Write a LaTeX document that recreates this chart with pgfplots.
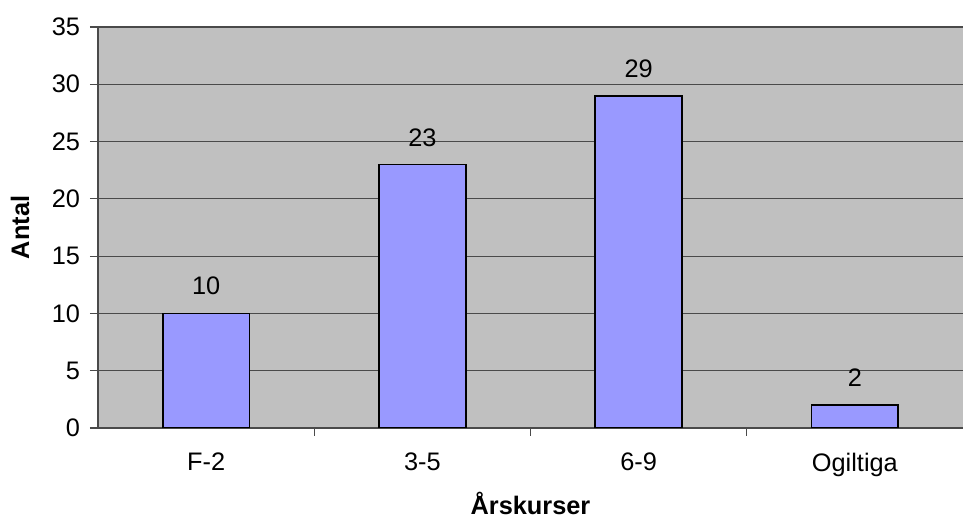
\documentclass[border=0pt]{standalone}
\usepackage{pgfplots}
\pgfplotsset{compat=1.18}
\usepackage{fontspec}
\setmainfont{Liberation Sans}
\definecolor{plotbg}{HTML}{C0C0C0}
\definecolor{barblue}{HTML}{9999FF}
\definecolor{gridc}{HTML}{4A4A4A}
\newcommand\chartfont{\fontsize{19}{22}\selectfont}
\begin{document}
\begin{tikzpicture}
\useasboundingbox (-73.5pt,-69pt) rectangle (648.75pt,321pt);
\begin{axis}[
  at={(0,0)}, anchor=south west,
  scale only axis, width=648.75pt, height=300.75pt,
  /pgf/number format/assume math mode=true,
  tick label style={font=\chartfont},
  label style={font=\chartfont\bfseries},
  axis background/.style={fill=plotbg},
  axis x line*=bottom, axis y line*=left,
  axis line style={gridc, line width=1pt},
  ymin=0, ymax=35, ytick={0,5,...,35},
  ymajorgrids, grid style={gridc, line width=0.9pt},
  xmin=-0.5, xmax=3.5,
  xtick={0.5,1.5,2.5}, xticklabels={},
  x tick style={draw=gridc, line width=0.8pt},
  extra x ticks={0,1,2,3}, extra x tick labels={F-2,3-5,6-9,Ogiltiga},
  extra x tick style={major tick length=0pt, grid=none,
    xticklabel style={yshift=-15pt}},
  tick align=outside, major tick length=6pt,
  y tick style={gridc, line width=0.8pt},
  yticklabel style={xshift=-4pt},
  xlabel={Årskurser}, ylabel={Antal},
  xlabel style={yshift=1pt},
  ylabel style={yshift=10pt},
  ybar, bar width=65pt,
  nodes near coords,
  every node near coord/.append style={inner sep=0pt, yshift=13pt, font=\chartfont},
]
\addplot[draw=black, line width=1.3pt, fill=barblue] coordinates {(0,10) (1,23) (2,29) (3,2)};
\end{axis}
\end{tikzpicture}
\end{document}
